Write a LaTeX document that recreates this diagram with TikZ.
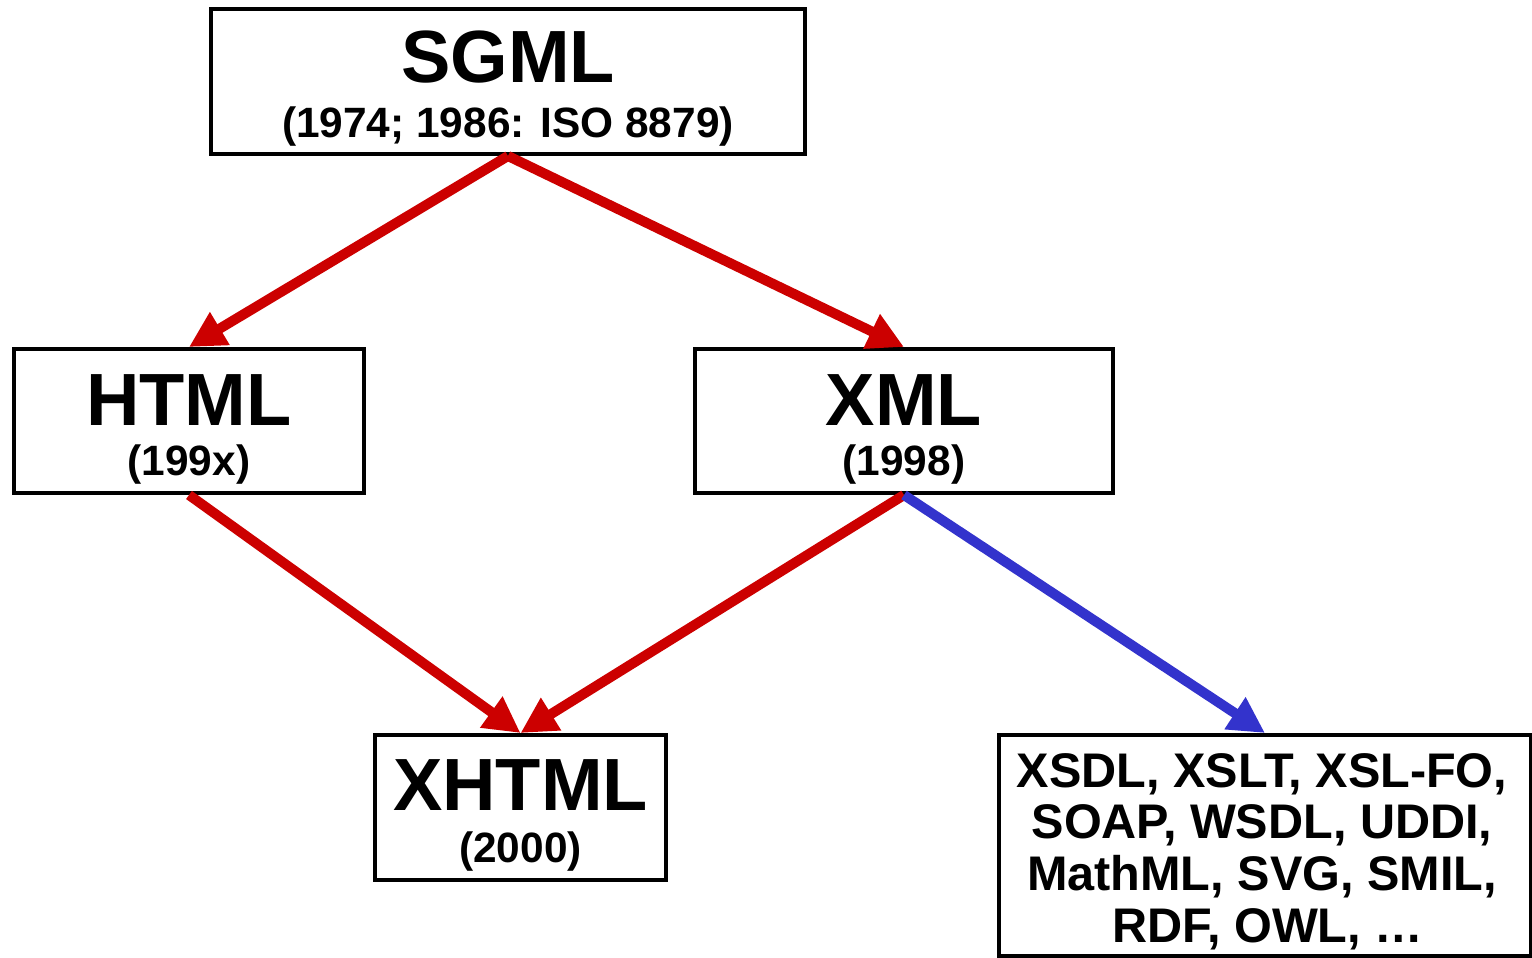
\documentclass[tikz,border=0pt]{standalone}
\usepackage{fontspec}
\setmainfont{Liberation Sans}
\usetikzlibrary{arrows.meta}
\definecolor{ared}{HTML}{CC0000}
\definecolor{ablue}{HTML}{3333CC}
\tikzset{
  box/.style={draw=black,line width=2pt,inner sep=0pt,fill=white},
  big/.style={anchor=base,inner sep=0pt,font=\fontsize{37}{40}\selectfont\bfseries},
  sub/.style={anchor=base,inner sep=0pt,font=\fontsize{21.2}{24}\selectfont\bfseries},
  list/.style={anchor=base,inner sep=0pt,font=\fontsize{24.3}{26}\selectfont\bfseries},
  conn/.style={line width=5pt,-{Triangle[length=18pt,width=18pt]}},
}
\begin{document}
\begin{tikzpicture}[x=0.5pt,y=-0.5pt]
\useasboundingbox (0,0) rectangle (1532,958);
% boxes
\node[box,minimum width=297pt,minimum height=72.5pt] (sgml) at (508,81.5) {};
\node[box,minimum width=175pt,minimum height=72pt] (html) at (189,421) {};
\node[box,minimum width=209pt,minimum height=72pt] (xml) at (904,421) {};
\node[box,minimum width=145.5pt,minimum height=72.5pt] (xhtml) at (520.5,807.5) {};
\node[box,minimum width=266pt,minimum height=110.5pt] (apps) at (1265,845.5) {};
% texts
\node[big] (sgmlt) at (508,83) {SGML};
\node[sub] (sgmls) at (508,137) {(1974; 1986: ISO 8879)};
\node[big] (htmlt) at (189,425) {HTML};
\node[sub] (htmls) at (189,475) {(199x)};
\node[big] (xmlt) at (904,425) {XML};
\node[sub] (xmls) at (904,475) {(1998)};
\node[big] (xhtmlt) at (520.5,810) {XHTML};
\node[sub] (xhtmls) at (520.5,862) {(2000)};
\node[list] (l1) at (1262,787) {XSDL, XSLT, XSL-FO,};
\node[list] (l2) at (1262,838) {SOAP, WSDL, UDDI,};
\node[list] (l3) at (1262,890) {MathML, SVG, SMIL,};
\node[list] (l4) at (1268,942) {RDF, OWL, \dots};
% connectors
\draw[conn,ared] (sgml.south) -- (html.north);
\draw[conn,ared] (sgml.south) -- (xml.north);
\draw[conn,ared] (html.south) -- (xhtml.north);
\draw[conn,ared] (xml.south) -- (xhtml.north);
\draw[conn,ablue] (xml.south) -- (apps.north);
\end{tikzpicture}
\end{document}
